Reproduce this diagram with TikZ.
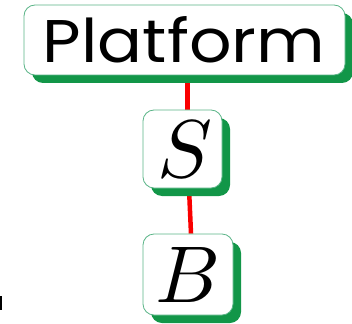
\documentclass[tikz,border=0pt]{standalone}
\usepackage{fontspec}
\newfontfamily\geofont{Poppins}
\usetikzlibrary{shadows,backgrounds}
\definecolor{shgreen}{RGB}{18,150,72}
\definecolor{bordergreen}{RGB}{90,180,135}
\definecolor{linkred}{RGB}{250,0,0}
\tikzset{
  boxnode/.style={draw=bordergreen, line width=0.8pt, fill=white, rounded corners=11pt,
    inner sep=0pt, drop shadow={shadow xshift=8pt, shadow yshift=-8pt, fill=shgreen, opacity=1}},
  link/.style={draw=linkred, line width=4.5pt}
}
\begin{document}
\begin{tikzpicture}[x=1pt,y=-1pt]
\useasboundingbox (0,0) rectangle (352,323);
\node[boxnode, minimum width=321pt, minimum height=70pt] (P) at (184.5,40) {};
\node (Pt) at (184,40) {\resizebox{282pt}{46pt}{\geofont Platform}};
\node[boxnode, minimum width=79pt, minimum height=78pt] (S) at (182.5,149) {};
\node (St) at (185,149.5) {\resizebox{!}{56pt}{$S$}};
\node[boxnode, minimum width=90pt, minimum height=81pt] (B) at (188,274.5) {};
\node (Bt) at (188,274.5) {\resizebox{!}{55pt}{$B$}};
\begin{pgfonlayer}{background}
\draw[link] ([xshift=3pt]P.south) -- ([xshift=5pt]S.north);
\draw[link] ([xshift=6.5pt]S.south) -- ([xshift=3pt]B.north);
\end{pgfonlayer}
\fill[black] (0,296) rectangle (1.5,310);
\end{tikzpicture}
\end{document}
